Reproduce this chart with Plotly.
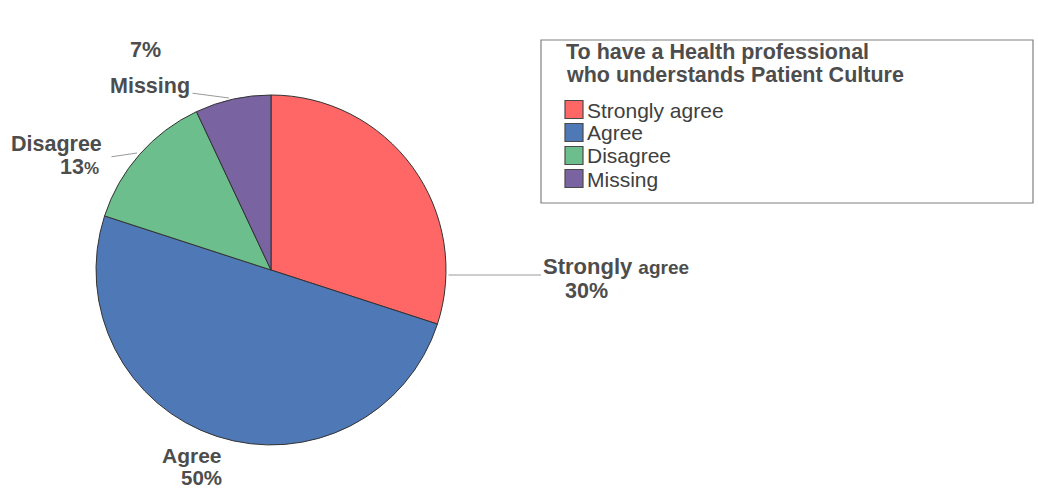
import plotly.graph_objects as go

# Survey responses (percent)
categories = ["Strongly agree", "Agree", "Disagree", "Missing"]
values = [30, 50, 13, 7]
colors = ["#FF6767", "#4F78B6", "#6CBE8D", "#7A63A1"]
legend_title = ["To have a Health professional", "who understands Patient Culture"]

W, H = 1038, 491
FONT = "Liberation Sans, Arial, sans-serif"
TXT = "#4d4d4d"
LBL = 21.5  # slice label size


def px(x):
    return x / W


def py(y):
    return 1 - y / H


fig = go.Figure(
    go.Pie(
        labels=categories,
        values=values,
        sort=False,
        direction="clockwise",
        rotation=0,
        textinfo="none",
        hoverinfo="label+percent",
        showlegend=False,
        marker=dict(colors=colors, line=dict(color="#333333", width=1)),
        domain=dict(x=[px(96), px(446)], y=[py(445), py(95)]),
    )
)

pct = dict(zip(categories, values))


def label(text, x, y, size=LBL, xanchor="center", bold=True, color=TXT):
    fig.add_annotation(
        text=f"<b>{text}</b>" if bold else text,
        x=px(x), y=py(y), xref="paper", yref="paper",
        showarrow=False, xanchor=xanchor, yanchor="middle",
        font=dict(family=FONT, size=size, color=color),
        borderpad=0,
    )


def leader(x0, y0, x1, y1):
    # thin connector from the label end (x0, y0) to the pie rim (x1, y1)
    fig.add_annotation(
        text="", x=px(x1), y=py(y1), xref="paper", yref="paper",
        ax=x0 - x1, ay=y0 - y1, axref="pixel", ayref="pixel",
        showarrow=True, arrowhead=0, arrowwidth=1, arrowcolor="#9a9a9a",
        standoff=0, startstandoff=0,
    )


# Slice labels with leader lines
label(f"{pct['Missing']}%", 145, 50)
label("Missing", 150, 86)
leader(191, 93, 229, 98)

label("Disagree", 56, 144)
label(f"{pct['Disagree']}<span style='font-size:17px'>%</span>", 79, 167)
leader(110, 157, 137, 153)

label("Strongly <span style='font-size:19px'>agree</span>", 542, 266, 22, "left")
label(f"{pct['Strongly agree']}%", 586, 291)
leader(447, 275, 541, 275)

label("Agree", 192, 455, 21)
label(f"{pct['Agree']}%", 201, 477.5, 20.5)

# Legend: framed box with a two-line heading and one swatch per category
fig.add_shape(
    type="rect", xref="paper", yref="paper",
    x0=px(541), x1=px(1033), y0=py(203), y1=py(40),
    line=dict(color="#808080", width=1.2), fillcolor="rgba(0,0,0,0)",
)
for i, line in enumerate(legend_title):
    label(line, 565, 52 + 23 * i, 21.5, "left")

for i, (name, col) in enumerate(zip(categories, colors)):
    cy = 109.5 + 23 * i
    fig.add_shape(
        type="rect", xref="paper", yref="paper",
        x0=px(565), x1=px(583), y0=py(cy + 9), y1=py(cy - 9),
        line=dict(color="#4a4a4a", width=1.2), fillcolor=col,
    )
    label(name, 586, cy + 0.5, 21, "left", bold=False, color="#404040")

fig.update_layout(
    width=W, height=H,
    margin=dict(l=0, r=0, t=0, b=0),
    paper_bgcolor="white",
    plot_bgcolor="white",
    showlegend=False,
)

fig.write_html("out.html")
